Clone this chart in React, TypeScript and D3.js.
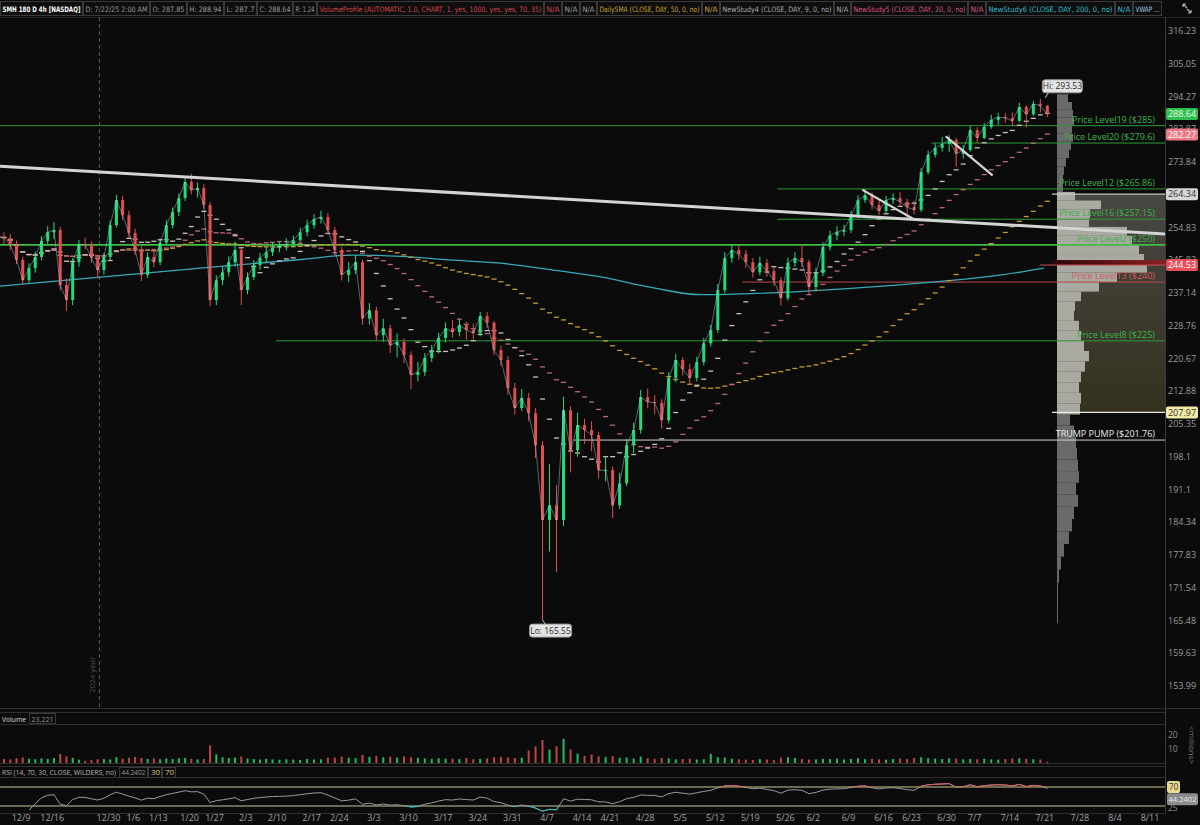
import React from 'react';
import * as d3 from 'd3';

// ---------------- DATA ----------------
// trading-day index of first value (12/4/2024); index 0 = 12/9/2024, 80 = 4/7/2025, 151 = 7/21/2025
const firstDayIndex = -3;

const closes = [
  252.2, 251.9, 250.0, 245.9, 240.5, 243.7, 246.7, 251.1, 253.5, 254.1,
  239.2, 235.3, 245.3, 250.2, 250.0, 246.4, 243.2, 246.7, 255.5, 262.6,
  258.3, 253.3, 248.6, 241.9, 246.7, 245.3, 250.6, 255.5, 259.2, 263.2,
  267.9, 265.5, 266.1, 261.2, 235.3, 240.5, 242.6, 245.3, 248.6, 237.9,
  241.3, 244.5, 246.4, 248.0, 249.1, 249.7, 250.2, 251.3, 253.5, 255.5,
  257.2, 257.8, 254.1, 248.6, 241.9, 243.2, 245.3, 230.6, 232.7, 226.4,
  228.1, 223.9, 224.7, 221.5, 216.7, 217.4, 220.8, 222.7, 225.7, 228.1,
  227.2, 228.9, 227.7, 226.9, 231.2, 229.5, 222.7, 220.3, 213.6, 209.0,
  211.3, 207.8, 200.6, 184.8, 187.8, 184.8, 208.5, 199.5, 205.1, 204.0,
  202.9, 195.2, 195.2, 187.8, 192.4, 200.6, 204.0, 211.5, 210.4, 210.2,
  206.2, 216.0, 220.3, 218.1, 216.0, 219.8, 224.4, 227.7, 237.9, 246.4,
  248.6, 247.5, 245.3, 242.6, 245.1, 242.9, 240.5, 235.8, 245.1, 246.4,
  245.3, 238.7, 242.4, 249.4, 252.6, 253.6, 254.1, 258.1, 262.6, 264.0,
  261.2, 259.5, 262.6, 263.2, 262.1, 260.6, 259.8, 270.8, 276.0, 278.1,
  279.3, 280.5, 276.3, 277.5, 283.6, 281.2, 284.6, 286.8, 287.7, 287.4,
  286.5, 290.9, 288.6, 291.9, 291.3, 288.64,
];

const highs = [
  254.0, 253.5, 253.0, 251.2, 246.8, 245.0, 248.2, 252.4, 255.2, 256.3,
  255.0, 241.0, 246.4, 251.4, 252.0, 251.0, 247.2, 247.8, 256.8, 264.1,
  263.9, 259.6, 254.5, 249.6, 248.0, 248.5, 251.8, 256.9, 260.5, 264.6,
  269.6, 270.3, 267.8, 267.2, 262.0, 241.8, 244.1, 246.9, 250.9, 249.2,
  242.6, 245.9, 247.8, 249.5, 250.6, 251.0, 251.8, 252.6, 254.8, 257.0,
  258.6, 259.6, 258.9, 255.0, 249.5, 245.3, 247.2, 246.0, 234.5, 233.6,
  230.5, 229.0, 226.8, 225.6, 222.4, 219.8, 222.0, 224.0, 227.0, 229.6,
  230.2, 230.4, 229.8, 229.3, 232.3, 232.2, 230.0, 223.8, 221.2, 214.8,
  213.4, 212.5, 209.0, 201.5, 196.5, 192.0, 211.6, 209.4, 207.9, 206.6,
  206.0, 203.6, 198.3, 196.0, 194.6, 202.0, 205.6, 213.2, 213.5, 212.0,
  211.0, 217.4, 221.8, 221.0, 219.4, 221.1, 225.7, 229.0, 239.5, 248.0,
  250.2, 250.0, 248.6, 246.4, 246.8, 246.2, 244.0, 241.3, 246.5, 248.0,
  250.0, 246.0, 243.8, 250.7, 253.9, 255.2, 255.6, 259.5, 264.0, 265.9,
  264.8, 262.6, 263.8, 264.6, 264.9, 263.0, 262.4, 272.0, 277.3, 279.5,
  281.5, 282.0, 281.2, 279.0, 285.0, 284.5, 285.8, 288.4, 289.0, 288.9,
  289.2, 292.3, 291.5, 292.9, 293.53, 291.5,
];

const lows = [
  250.8, 250.2, 248.6, 244.8, 239.3, 239.8, 242.5, 245.8, 250.3, 251.6,
  237.8, 232.5, 234.0, 244.1, 248.8, 245.2, 241.0, 242.0, 245.9, 254.8,
  256.9, 252.0, 247.2, 240.3, 241.1, 243.9, 244.5, 249.8, 254.6, 258.0,
  262.4, 264.2, 263.4, 260.1, 233.8, 234.0, 239.2, 241.4, 244.1, 234.0,
  236.8, 240.5, 243.3, 245.2, 247.0, 248.0, 248.5, 249.3, 250.6, 252.4,
  254.5, 255.9, 253.0, 247.2, 240.4, 240.0, 242.1, 229.0, 229.1, 225.0,
  224.8, 222.0, 220.9, 219.6, 213.4, 215.2, 216.5, 219.8, 221.9, 224.6,
  225.8, 226.1, 225.3, 225.4, 226.1, 228.1, 221.5, 218.9, 212.1, 207.5,
  208.3, 205.9, 197.8, 165.55, 178.5, 174.5, 183.6, 194.7, 198.1, 200.9,
  199.3, 193.4, 192.8, 185.2, 187.1, 191.8, 198.9, 203.2, 208.9, 207.6,
  204.3, 205.5, 215.0, 216.6, 214.4, 215.2, 219.0, 223.6, 227.0, 237.1,
  245.2, 246.0, 243.7, 241.2, 241.8, 241.4, 239.0, 233.9, 235.2, 244.0,
  243.9, 236.8, 237.6, 241.6, 248.5, 251.3, 252.4, 253.3, 257.4, 261.8,
  259.9, 258.3, 258.6, 261.5, 260.6, 257.4, 258.5, 259.2, 270.1, 275.2,
  277.0, 276.9, 272.5, 274.9, 277.0, 279.6, 280.8, 284.0, 285.3, 285.9,
  284.8, 286.0, 284.4, 288.0, 289.1, 287.7,
];

// volume (millions)
const volumes = [
  3.1, 2.8, 2.6, 3.4, 3.9, 3.0, 2.7, 3.3, 2.9, 3.5,
  6.4, 4.8, 3.6, 2.4, 1.6, 2.1, 2.6, 2.8, 2.5, 4.2,
  3.1, 3.8, 4.4, 3.6, 2.9, 3.3, 2.7, 3.2, 2.8, 3.4,
  3.7, 3.0, 2.6, 2.9, 12.5, 6.2, 4.1, 3.6, 3.9, 4.6,
  3.2, 2.8, 2.5, 3.0, 2.6, 2.3, 2.7, 2.4, 2.2, 2.9,
  2.5, 2.6, 3.8, 3.9, 4.5, 3.7, 3.5, 5.8, 4.4, 5.0,
  4.1, 4.6, 3.9, 4.8, 4.2, 3.7, 3.3, 2.9, 3.4, 3.1,
  3.0, 2.8, 3.6, 2.7, 2.9, 3.3, 4.1, 4.4, 4.0, 3.6,
  3.8, 8.9, 11.8, 16.5, 9.6, 12.0, 17.2, 9.8, 6.7, 5.1,
  6.0, 4.8, 4.4, 4.9, 3.7, 4.0, 3.2, 4.6, 3.4, 3.0,
  3.6, 3.3, 2.6, 2.9, 3.1, 2.5, 2.7, 6.5, 4.2, 3.9,
  3.1, 2.6, 2.4, 2.2, 2.8, 2.5, 2.0, 3.8, 4.1, 3.6,
  2.9, 2.4, 2.6, 3.0, 2.8, 3.1, 2.5, 2.9, 3.4, 2.7,
  3.0, 2.6, 2.4, 2.8, 3.2, 2.9, 3.6, 4.1, 3.5, 3.2,
  2.8, 3.4, 3.1, 2.6, 2.9, 2.7, 3.1, 2.6, 2.4, 2.8,
  3.2, 3.4, 2.9, 2.7, 2.5, 0.8,
];

const weekLabels = ['12/9', '12/16', '12/30', '1/6', '1/13', '1/20', '1/27', '2/3', '2/10', '2/17', '2/24', '3/3', '3/10', '3/17', '3/24', '3/31', '4/7', '4/14', '4/21', '4/28', '5/5', '5/12', '5/19', '5/26', '6/2', '6/9', '6/16', '6/23', '6/30', '7/7', '7/14', '7/21', '7/28', '8/4', '8/11'];
const weekLabelDay = [0, 5, 14, 18, 22, 27, 31, 36, 41, 46, 50, 55, 60, 65, 70, 75, 80, 85, 89, 94, 99, 104, 109, 114, 118, 123, 128, 132, 137, 141, 146, 151, 156, 161, 166];
const yearBreakDay = 14;

const priceTicks = ['316.23', '305.05', '294.27', '283.87', '273.84', '264.16', '254.83', '245.83', '237.14', '228.76', '220.67', '212.88', '205.35', '198.1', '191.1', '184.34', '177.83', '171.54', '165.48', '159.63', '153.99'];

// 200-day SMA
const sma200Day = [-3, 14, 30, 46, 53, 60, 67, 74, 82, 89, 96, 103, 110, 117, 124, 131, 138, 146, 152];
const sma200Value = [238.8, 241.3, 243.7, 246.1, 247.2, 246.9, 245.9, 245.1, 243.2, 241.3, 238.6, 236.7, 237.0, 237.5, 238.3, 239.2, 240.3, 241.9, 243.7];

const levelNames = ['Price Level19 ($285)', 'Price Level20 ($279.6)', 'Price Level12 ($265.86)', 'Price Level16 ($257.15)', 'Price Level2 ($250)', 'Price Level13 ($240)', 'Price Level8 ($225)', 'TRUMP PUMP ($201.76)'];
const levelPrices = [285, 279.6, 265.86, 257.15, 250, 240, 225, 201.76];
const levelStartDay = [-3, 136, 114, 114, -3, 109, 42, 85];
const levelKind = ['green', 'green', 'green', 'green', 'strong', 'red', 'green', 'white'];

// trend lines (day index, price)
const trendStartDay = [-2.1, 126.2, 138.1];
const trendStartPrice = [272.6, 265.5, 281.5];
const trendEndDay = [169.3, 133.4, 144.6];
const trendEndPrice = [253.0, 257.2, 270.0];

// volume profile: bins of 2.5 from 165
const vpBinLow = 165;
const vpBinStep = 2.5;
const vpVolume = [1, 1, 1, 2, 4, 7, 12, 15, 17, 21, 19, 22, 21, 20, 19, 17, 13, 23, 24, 22, 24, 28, 32, 27, 24, 22, 17, 18, 24, 42, 60, 90, 87, 82, 75, 70, 32, 33, 44, 18, 6, 6, 7, 9, 12, 14, 16, 15, 17, 16, 15, 11];
const valueAreaHigh = 264.34;
const valueAreaLow = 207.97;
const pocPrice = 244.53;
const lastPrice = 288.64;
const sma20Last = 282.27;
const hiPrice = 293.53;
const hiDay = 151;
const loPrice = 165.55;
const loDay = 80;

const headerItems = [
  { t: 'SMH 180 D 4h [NASDAQ]', c: '#ffffff', w: 83, b: true },
  { t: 'D: 7/22/25 2:00 AM', c: '#9a9a9a', w: 67 },
  { t: 'O: 287.85', c: '#9a9a9a', w: 37 },
  { t: 'H: 288.94', c: '#9a9a9a', w: 37 },
  { t: 'L: 287.7', c: '#9a9a9a', w: 33 },
  { t: 'C: 288.64', c: '#9a9a9a', w: 36 },
  { t: 'R: 1.24', c: '#9a9a9a', w: 24 },
  { t: 'VolumeProfile (AUTOMATIC, 1.0, CHART, 1, yes, 1000, yes, yes, 70, 35)', c: '#d24848', w: 227 },
  { t: 'N/A', c: '#d24848', w: 18 },
  { t: 'N/A', c: '#9a9a9a', w: 18 },
  { t: 'N/A', c: '#9a9a9a', w: 17 },
  { t: 'DailySMA (CLOSE, DAY, 50, 0, no)', c: '#c9a227', w: 105 },
  { t: 'N/A', c: '#c9a227', w: 18 },
  { t: 'NewStudy4 (CLOSE, DAY, 9, 0, no)', c: '#a8a8a8', w: 114 },
  { t: 'N/A', c: '#a8a8a8', w: 17 },
  { t: 'NewStudy5 (CLOSE, DAY, 20, 0, no)', c: '#d8557a', w: 117 },
  { t: 'N/A', c: '#d8557a', w: 18 },
  { t: 'NewStudy6 (CLOSE, DAY, 200, 0, no)', c: '#2fb8c8', w: 129 },
  { t: 'N/A', c: '#2fb8c8', w: 18 },
  { t: 'VWAP ...', c: '#a8c8ea', w: 29 },
];

const FONT = '"Open Sans", "Noto Sans", sans-serif';
const NARROW = '"Liberation Sans Narrow", "DejaVu Sans Condensed", "Open Sans", sans-serif';

function smaSeries(vals: number[], n: number) {
  return vals.map((_, k) => d3.mean(vals.slice(Math.max(0, k - n + 1), k + 1)) as number);
}

function rsiSeries(c: number[], n: number) {
  const out: (number | null)[] = [null];
  let ag = 0, al = 0;
  for (let i = 1; i < c.length; i++) {
    const ch = c[i] - c[i - 1];
    const g = Math.max(ch, 0), l = Math.max(-ch, 0);
    if (i <= n) { ag = (ag * (i - 1) + g) / i; al = (al * (i - 1) + l) / i; }
    else { ag = (ag * (n - 1) + g) / n; al = (al * (n - 1) + l) / n; }
    out.push(al === 0 ? 100 : 100 - 100 / (1 + ag / al));
  }
  return out;
}

export default function App() {
  const W = 1200, H = 825;
  const plotRight = 1165;
  const x = d3.scaleLinear().domain([0, 41, 80, 166]).range([13, 269, 539, 1142]);
  const y = d3.scaleLog().domain([153.99, 316.23]).range([686, 31]);
  const yVol = d3.scaleLinear().domain([0, 20]).range([763, 735]);
  const yRsi = d3.scaleLinear().domain([30, 70]).range([806, 787]);
  const xVp = d3.scaleLinear().domain([0, 108]).range([1057, 1165]);

  const days = closes.map((_, k) => k + firstDayIndex);
  const cx = (i: number) => x(i) + 3.5;
  const opens = closes.map((c, k) => (k === 0 ? c : closes[k - 1]));
  const UP = '#22dc7a', DOWN = '#e0504f';

  const sma9 = smaSeries(closes, 9);
  const sma20 = smaSeries(closes, 20);
  const sma50 = smaSeries(closes, 50);
  const rsi = rsiSeries(closes, 14);

  const sma200Line = d3.line<number>()
    .x((_, k) => x(sma200Day[k]))
    .y((v) => y(v))
    .curve(d3.curveMonotoneX)(sma200Value) || '';

  const vwapLine = d3.line<number>()
    .x((_, k) => cx(days[k]))
    .y((v) => y(v))(closes) || '';

  const rsiLine = d3.line<number | null>()
    .defined((v, k) => v !== null && k >= 5)
    .x((_, k) => cx(days[k]))
    .y((v) => yRsi(v as number))(rsi) || '';

  const levelColor = (k: string) => (k === 'red' ? '#b84a4a' : k === 'white' ? '#cfcfcf' : k === 'strong' ? '#3fbf3f' : '#2c9a38');
  const levelText = (k: string) => (k === 'red' ? '#d45a5a' : k === 'white' ? '#ececec' : '#3cb44b');

  // header layout
  let hx = 0;
  const header = headerItems.map((h) => { const x0 = hx; hx += h.w; return { ...h, x0 }; });

  const rightBoxes = [
    { p: lastPrice, t: '288.64', fill: '#2fbf4f', tc: '#eaffea' },
    { p: sma20Last, t: '282.27', fill: '#ee7a86', tc: '#ffffff' },
    { p: valueAreaHigh, t: '264.34', fill: '#d6d6d6', tc: '#333333' },
    { p: pocPrice, t: '244.53', fill: '#e5505b', tc: '#ffffff' },
    { p: valueAreaLow, t: '207.97', fill: '#f3e9a6', tc: '#333333' },
  ];

  const hiX = cx(hiDay), hiY = y(hiPrice);
  const loX = cx(loDay), loY = y(loPrice);

  return (
    <svg width={W} height={H} style={{ position: 'absolute', left: 0, top: 0, display: 'block', background: '#0b0b0b' }} fontFamily={FONT}>
      <defs>
        <clipPath id="pricePanel"><rect x={0} y={17} width={plotRight} height={691} /></clipPath>
        <clipPath id="rsiHigh"><rect x={0} y={760} width={plotRight} height={27} /></clipPath>
        <clipPath id="rsiLow"><rect x={0} y={806} width={plotRight} height={20} /></clipPath>
        <linearGradient id="vaGrad" x1="0" y1="0" x2="0" y2="1">
          <stop offset="0" stopColor="#484743" />
          <stop offset="1" stopColor="#34311e" />
        </linearGradient>
        <linearGradient id="pocGrad" x1="0" y1="0" x2="1" y2="0">
          <stop offset="0" stopColor="#2a0808" />
          <stop offset="1" stopColor="#8e1f22" />
        </linearGradient>
      </defs>
      <rect x={0} y={0} width={W} height={H} fill="#0b0b0b" />

      {/* header */}
      {header.map((h, k) => (
        <g key={'h' + k}>
          <rect x={h.x0 + 0.5} y={1.5} width={h.w - 1} height={14} fill="#0e0e0e" stroke="#3a3a3a" />
          <text x={h.x0 + 2.5} y={11.5} fontSize={7.5} fontFamily={NARROW} fill={h.c} fontWeight={h.b ? 700 : 400}
            textLength={h.w - 5} lengthAdjust="spacingAndGlyphs">{h.t}</text>
        </g>
      ))}
      <g stroke="#b0b0b0" strokeWidth={1.2} fill="none">
        <path d="M1183,4 L1187,8 M1183,4 L1183,7 M1183,4 L1186,4 M1191,13 L1187,9 M1191,13 L1191,10 M1191,13 L1188,13" />
      </g>
      <line x1={0} x2={W} y1={17.5} y2={17.5} stroke="#262626" />

      {/* price panel */}
      <g clipPath="url(#pricePanel)">
        <line x1={x(yearBreakDay) - 1} x2={x(yearBreakDay) - 1} y1={17} y2={708} stroke="#5a5a5a" strokeDasharray="4,3" />
        <text transform={`translate(${x(yearBreakDay) - 5},${693}) rotate(-90)`} fontSize={8} fill="#4e4e4e">2024 year</text>

        {/* volume profile */}
        <rect x={xVp(0)} y={y(valueAreaHigh)} width={plotRight - xVp(0)} height={y(valueAreaLow) - y(valueAreaHigh)} fill="url(#vaGrad)" />
        {vpVolume.map((v, k) => {
          const pl = vpBinLow + k * vpBinStep, ph = pl + vpBinStep, pc = pl + vpBinStep / 2;
          const inVa = pc >= valueAreaLow && pc <= valueAreaHigh;
          return <rect key={'vp' + k} x={xVp(0)} y={y(ph)} width={xVp(v) - xVp(0)} height={y(pl) - y(ph)} fill={inVa ? '#a9a8a1' : '#6a6a6a'} />;
        })}
        <rect x={1052} y={y(pocPrice) - 5} width={plotRight - 1052} height={5} fill="url(#pocGrad)" />
        <line x1={1040} x2={plotRight} y1={y(pocPrice)} y2={y(pocPrice)} stroke="#c8505c" strokeWidth={1} />
        <line x1={1052} x2={plotRight} y1={y(valueAreaHigh)} y2={y(valueAreaHigh)} stroke="#c8c8c8" strokeWidth={1.2} />
        <line x1={1052} x2={plotRight} y1={y(valueAreaLow)} y2={y(valueAreaLow)} stroke="#e8e8e8" strokeWidth={1.2} />

        {/* price levels */}
        {levelPrices.map((p, k) => (
          <line key={'lv' + k} x1={Math.max(0, x(levelStartDay[k]))} x2={plotRight} y1={y(p)} y2={y(p)}
            stroke={levelColor(levelKind[k])} strokeWidth={levelKind[k] === 'strong' ? 1.6 : 1} />
        ))}

        {/* 200 SMA */}
        <path d={sma200Line} fill="none" stroke="#36a9b9" strokeWidth={1.3} />

        {/* SMA dashes */}
        {days.map((i, k) => (
          <g key={'sm' + k}>
            <line x1={x(i) + 1} x2={x(i) + 6} y1={y(sma50[k])} y2={y(sma50[k])} stroke="#c49a32" strokeWidth={1.3} />
            <line x1={x(i) + 1} x2={x(i) + 6} y1={y(sma20[k])} y2={y(sma20[k])} stroke="#b86a7c" strokeWidth={1.3} />
            <line x1={x(i) + 1} x2={x(i) + 6} y1={y(sma9[k])} y2={y(sma9[k])} stroke="#cdbfbf" strokeWidth={1.3} />
          </g>
        ))}

        {/* candles */}
        {days.map((i, k) => {
          const o = opens[k], c = closes[k];
          const col = c >= o ? UP : DOWN;
          const xc = cx(i);
          const top = y(Math.max(o, c)), bot = y(Math.min(o, c));
          return (
            <g key={'c' + k}>
              <line x1={xc} x2={xc} y1={y(highs[k])} y2={y(lows[k])} stroke={col} strokeWidth={1} />
              <rect x={xc - 1.5} y={top} width={3} height={Math.max(1, bot - top)} fill={col} />
            </g>
          );
        })}
        <path d={vwapLine} fill="none" stroke="#a9d4ef" strokeOpacity={0.45} strokeWidth={1} />

        {/* trend lines */}
        {trendStartDay.map((d, k) => (
          <line key={'tl' + k} x1={x(d)} y1={y(trendStartPrice[k])} x2={x(trendEndDay[k])} y2={y(trendEndPrice[k])}
            stroke="#d4d4d4" strokeWidth={k === 0 ? 3 : 2.2} strokeLinecap="round" />
        ))}

        {/* level labels */}
        {levelPrices.map((p, k) => (
          <text key={'lt' + k} x={1155} y={y(p) - 3} textAnchor="end" fontSize={9} fill={levelText(levelKind[k])}>{levelNames[k]}</text>
        ))}

        {/* Hi / Lo bubbles */}
        <line x1={hiX + 5} y1={hiY - 1} x2={hiX + 8} y2={hiY - 6} stroke="#cccccc" />
        <rect x={hiX + 2} y={hiY - 19} width={40} height={13} rx={3} fill="#e4e4e4" stroke="#9a9a9a" />
        <text x={hiX + 22} y={hiY - 9.5} textAnchor="middle" fontSize={8.5} fill="#2a2a2a">Hi: 293.53</text>
        <line x1={loX} y1={loY} x2={loX + 3} y2={loY + 4} stroke="#cccccc" />
        <rect x={loX - 13} y={loY + 4} width={42} height={13} rx={3} fill="#e4e4e4" stroke="#9a9a9a" />
        <text x={loX + 8} y={loY + 13.5} textAnchor="middle" fontSize={8.5} fill="#2a2a2a">Lo: 165.55</text>
      </g>

      {/* right axis */}
      <line x1={plotRight + 0.5} x2={plotRight + 0.5} y1={17} y2={813} stroke="#3a3a3a" />
      {priceTicks.map((t) => (
        <text key={'pt' + t} x={1168} y={y(+t)} dy="0.35em" fontSize={9} fill="#9c9c9c">{t}</text>
      ))}
      {rightBoxes.map((b) => (
        <g key={'rb' + b.t}>
          <rect x={1166} y={y(b.p) - 6} width={32} height={12} rx={2} fill={b.fill} />
          <text x={1182} y={y(b.p)} dy="0.35em" textAnchor="middle" fontSize={9} fill={b.tc}>{b.t}</text>
        </g>
      ))}

      {/* panel separators */}
      <g stroke="#2e2e2e">
        <line x1={0} x2={W} y1={708.5} y2={708.5} />
        <line x1={0} x2={plotRight} y1={712.5} y2={712.5} />
        <line x1={0} x2={plotRight} y1={724.5} y2={724.5} />
        <line x1={0} x2={plotRight} y1={763.5} y2={763.5} />
        <line x1={0} x2={plotRight} y1={766.5} y2={766.5} />
        <line x1={0} x2={plotRight} y1={777.5} y2={777.5} />
        <line x1={0} x2={plotRight} y1={813.5} y2={813.5} />
      </g>

      {/* volume panel */}
      <text x={2} y={721.5} fontSize={8} fill="#dcdcdc" textLength={24} lengthAdjust="spacingAndGlyphs">Volume</text>
      <rect x={29.5} y={713.5} width={26} height={10} fill="none" stroke="#3a3a3a" />
      <text x={31.5} y={721.5} fontSize={7.5} fill="#9a9a9a" textLength={22} lengthAdjust="spacingAndGlyphs">23,221</text>
      {days.map((i, k) => (
        <rect key={'v' + k} x={cx(i) - 1} y={yVol(volumes[k])} width={2} height={yVol(0) - yVol(volumes[k])}
          fill={closes[k] >= opens[k] ? UP : DOWN} opacity={0.85} />
      ))}
      <text x={1168} y={yVol(20)} dy="0.35em" fontSize={8.5} fill="#8a8a8a">20</text>
      <text x={1168} y={yVol(10)} dy="0.35em" fontSize={8.5} fill="#8a8a8a">10</text>
      <text transform="translate(1189,745) rotate(90)" textAnchor="middle" fontSize={8} fill="#7a7a7a">{'<millions>'}</text>

      {/* RSI panel */}
      <text x={2} y={775} fontSize={7.5} fill="#b4b4b4" textLength={114} lengthAdjust="spacingAndGlyphs">RSI (14, 70, 30, CLOSE, WILDERS, no)</text>
      <rect x={119.5} y={767.5} width={28} height={10} fill="none" stroke="#3a3a3a" />
      <text x={121.5} y={775} fontSize={7.5} fill="#9a9a9a" textLength={24} lengthAdjust="spacingAndGlyphs">44.2402</text>
      <rect x={148.5} y={767.5} width={13} height={10} fill="none" stroke="#3a3a3a" />
      <text x={151} y={775} fontSize={8} fill="#d8c98c">30</text>
      <rect x={162.5} y={767.5} width={13} height={10} fill="none" stroke="#3a3a3a" />
      <text x={165} y={775} fontSize={8} fill="#d8c98c">70</text>

      <line x1={0} x2={plotRight} y1={yRsi(70)} y2={yRsi(70)} stroke="#8d8866" strokeWidth={1.5} />
      <line x1={0} x2={plotRight} y1={yRsi(30)} y2={yRsi(30)} stroke="#8d8866" strokeWidth={1.5} />
      <path d={rsiLine} fill="none" stroke="#9a9a9a" strokeWidth={1} />
      <path d={rsiLine} fill="none" stroke="#e06060" strokeWidth={1} clipPath="url(#rsiHigh)" />
      <path d={rsiLine} fill="none" stroke="#2cc4c4" strokeWidth={1} clipPath="url(#rsiLow)" />
      <rect x={1167} y={yRsi(70) - 6} width={13} height={12} rx={2} fill="#eadb92" />
      <text x={1173.5} y={yRsi(70)} dy="0.35em" textAnchor="middle" fontSize={8.5} fill="#333">70</text>
      <rect x={1167} y={yRsi(44.2402) - 6} width={31} height={12} rx={2} fill="#8c8c8c" />
      <text x={1182.5} y={yRsi(44.2402)} dy="0.35em" textAnchor="middle" fontSize={7.5} fill="#e8e8e8" textLength={28} lengthAdjust="spacingAndGlyphs">44.2402</text>
      <text x={1168} y={yRsi(25)} dy="0.35em" fontSize={8.5} fill="#8a8a8a">25</text>

      {/* date axis */}
      {weekLabels.map((l, k) => (
        <text key={'wl' + k} x={x(weekLabelDay[k]) + 8} y={821} textAnchor="middle" fontSize={9} fill="#a0a0a0">{l}</text>
      ))}
    </svg>
  );
}
